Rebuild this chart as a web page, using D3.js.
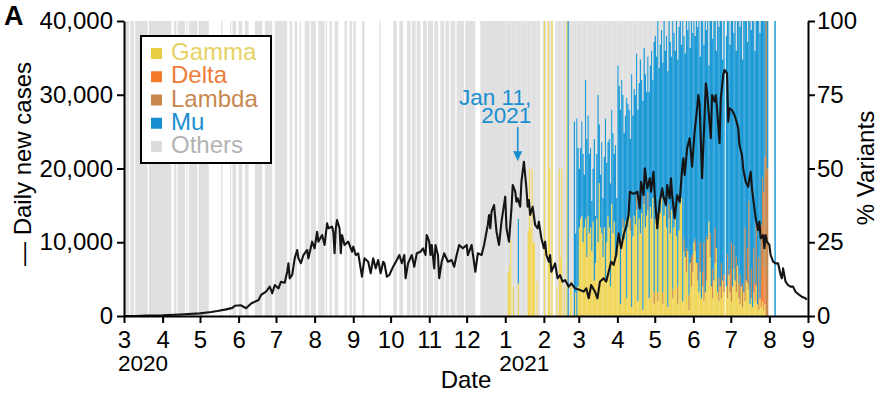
<!DOCTYPE html>
<html><head><meta charset="utf-8">
<script src="https://cdn.jsdelivr.net/npm/d3@7"></script>
<style>
body{margin:0;background:#fff}
svg{display:block;font-family:"Liberation Sans",Arial,Helvetica,sans-serif}
</style>
</head><body>
<svg id="chart" width="886" height="398"></svg>
<script>
// ---------------- DATA ----------------
// Daily new cases (black line), grouped by month
const caseMonths = ["2020-03","2020-04","2020-05","2020-06","2020-07","2020-08","2020-09","2020-10","2020-11","2020-12",
                    "2021-01","2021-02","2021-03","2021-04","2021-05","2021-06","2021-07","2021-08"];
const caseDays = [
 [1,10,20],
 [1,15],
 [1,10,15,22,27,29],
 [3,7,11,17,19,23,26,28,30],
 [3,5,8,10,11,12,14,16,18,19,21,23,26,27,30],
 [1,3,4,7,9,11,12,15,16,17,18,19,21,22,23,25,28,31],
 [1,3,5,8,10,13,15,17,19,21,23,25,26,28,30],
 [3,6,8,10,12,13,15,18,20,22,25,27,29,30],
 [1,2,3,5,6,8,9,11,13,16,19,21,23,25,28],
 [1,2,5,8,10,13,15,18,19,20,21,23,25,27,29],
 [1,2,4,6,7,9,10,11,13,14,16,18,19,20,21,23,25,27,28,30],
 [1,2,3,5,6,7,10,12,14,16,18,21,23,26],
 [2,5,7,9,11,14,16,18,21,23,25,27,29,31],
 [2,4,6,8,10,11,13,15,17,19,20,22,23,25,27,28,30],
 [1,3,5,7,8,10,11,13,14,15,17,19,21,23,24,25,27,29,31],
 [1,2,4,5,6,8,10,11,12,13,15,16,18,19,20,22,23,25,26,28,29,30],
 [2,4,6,7,8,10,11,13,15,16,17,18,20,21,23,24,25,27,28,29,30],
 [1,2,4,6,8,10,11,12,14,16,18,20,22,25,27,30,31]
];
const caseValues = [
 [0,10,60],
 [100,200],
 [360,550,680,900,1100,1400],
 [1450,1050,1700,2170,2850,3300,3980,3080,4200],
 [3750,4650,4500,6000,7150,5100,5560,7820,8950,7820,7150,8270,8950,7820,10080],
 [9180,11430,10080,10980,9630,12570,11890,12110,11430,8500,11890,13020,11890,8500,10980,9630,10080,8720],
 [9400,8270,8500,5330,7820,7360,5790,7820,6460,7590,5790,7360,7150,5330,5560],
 [6690,7590,8270,7150,8270,5110,7150,8270,6690,8500,8720,9180,8270,10980],
 [10080,8270,9630,6460,9630,8270,5110,7360,8500,7360,7590,6690,8270,9630,9180],
 [9630,8270,9630,6000,8500,8270,9630,12340,13700,11890,14140,15050,11430,9630,12790],
 [16180,11890,10080,14600,17770,16850,15500,15950,14820,18210,20920,17310,14820,15730,13700,14820,12340,11890,12790,10540],
 [9180,10080,8270,7360,8270,6000,7140,5110,5560,4650,4880,3980,4430,3750],
 [3530,3300,3750,2400,4200,3300,2400,4650,5110,4650,6000,7360,6920,8270],
 [11210,9180,10980,12110,13700,16850,16620,16620,16850,14600,18210,16410,20020,17310,18670,16850,19560],
 [16400,11890,15500,17310,16180,15050,17770,15960,18670,16400,13250,16400,15500,20020,21380,19120,22740,24100,20250],
 [22740,24990,28160,29970,28610,18670,27260,31550,30420,28160,24100,29970,29060,29970,28160,23420,29520,32680,33360,32910,26350,28160],
 [27930,27260,26130,25450,23190,21830,20020,18210,17530,18670,19560,17310,14600,13250,11660,12800,10540,10980,9180,10980,10080],
 [9630,8270,7360,7140,7140,5560,5110,6460,4650,4200,3980,3980,3300,2850,2620,2400,2200]
];

// 2020: days with sequenced samples (all "Others"), as date ranges
const othersOnly2020 = [
 ["2020-03-02","2020-03-04"],["2020-03-06","2020-03-08"],["2020-03-10","2020-03-19"],["2020-03-21","2020-04-07"],
 ["2020-04-10","2020-04-11"],["2020-04-13","2020-04-18"],["2020-04-20","2020-04-20"],["2020-04-22","2020-04-28"],
 ["2020-04-30","2020-05-07"],["2020-05-18","2020-05-18"],["2020-05-25","2020-05-25"],["2020-05-27","2020-05-29"],
 ["2020-06-01","2020-06-03"],["2020-06-06","2020-06-08"],["2020-06-14","2020-06-19"],["2020-06-22","2020-06-27"],
 ["2020-06-30","2020-07-09"],["2020-07-12","2020-07-13"],["2020-07-16","2020-07-17"],["2020-07-20","2020-07-20"],
 ["2020-07-24","2020-07-27"],["2020-07-29","2020-08-01"],["2020-08-04","2020-08-08"],["2020-08-10","2020-08-10"],
 ["2020-08-13","2020-08-14"],["2020-08-17","2020-08-19"],["2020-08-25","2020-08-26"],["2020-08-29","2020-08-30"],
 ["2020-09-01","2020-09-02"],["2020-09-08","2020-09-09"],["2020-09-22","2020-09-22"],["2020-10-03","2020-10-05"],
 ["2020-10-08","2020-10-10"],["2020-10-14","2020-10-16"],["2020-10-18","2020-10-20"],["2020-10-22","2020-10-24"],
 ["2020-10-27","2020-10-29"],["2020-10-31","2020-11-03"],["2020-11-05","2020-11-07"],["2020-11-10","2020-11-12"],
 ["2020-11-14","2020-11-16"],["2020-11-18","2020-11-21"],["2020-11-23","2020-11-28"],["2020-11-30","2020-12-07"],
 ["2020-12-12","2020-12-31"]
];

// 2021: daily % of variants (null = no sequenced sample that day); Others = remainder
const variantMonths = ["2021-01","2021-02","2021-03","2021-04","2021-05","2021-06","2021-07","2021-08"];
const gammaPct = [
 [0,0,15,17,26,0,10,0,0,0,11,0,0,0,0,0,0,0,29,50,30,50,25,25,0,12,0,0,null,null,0],
 [100,0,null,100,50,0,100,null,null,0,10,0,50,20,50,0,10,0,100,0,0,10,12,0,0,8,0,10],
 [30,33,34,25,30,33,20,34,28,30,22,32,12,18,33,25,45,30,28,20,30,12,25,34,30,10,38,28,32,20,20],
 [28,25,4,27,30,26,32,6,30,35,29,3,27,34,31,36,5,33,28,35,2,38,30,34,36,6,37,33,40,4],
 [33,36,5,38,35,40,4,34,37,30,3,33,28,36,6,30,34,27,4,29,38,40,5,22,20,15,22,2,18,10,15],
 [25,22,18,12,8,15,6,10,5,8,12,26,32,20,10,6,12,18,23,8,5,10,6,12,8,null,10,6,14,8],
 [5,10,16,12,8,17,6,4,10,3,8,5,12,11,9,4,6,3,8,5,10,4,2,6,3,5,2,4,0,0,null],
 [null,null,null,null,0]
];
const muPct = [
 [0,0,0,0,0,0,0,0,0,0,22,0,0,0,0,0,0,0,0,0,0,0,0,0,0,0,0,0,null,null,0],
 [0,0,null,0,0,0,0,null,null,0,0,0,0,0,0,0,0,0,0,100,0,0,0,0,66,20,67,47],
 [20,24,32,30,18,47,40,34,27,27,17,18,48,16,22,50,20,18,31,20,24,55,27,25,30,35,32,34,23,38,20],
 [57,53,66,53,42,36,36,68,42,35,27,79,41,43,44,48,65,46,59,45,71,50,52,42,46,70,48,57,40,85],
 [62,52,92,46,57,57,78,66,53,65,80,62,65,52,91,66,56,73,77,69,62,52,95,69,69,77,75,93,73,80,75],
 [75,69,82,80,92,63,94,85,67,92,70,74,53,72,90,78,88,70,67,92,85,90,82,75,86,null,85,79,86,76],
 [75,90,72,88,70,83,89,84,90,76,92,70,88,70,61,96,81,97,77,79,68,96,80,90,69,53,58,46,0,50,null],
 [null,null,null,null,100]
];
const lambdaMonths = ["2021-04","2021-05","2021-06","2021-07"];
const lambdaPct = [
 [0,0,0,0,3,0,0,0,0,0,4,0,0,0,0,5,0,0,0,0,0,3,0,0,6,0,0,0,0,4],
 [0,0,3,0,0,0,4,0,0,0,0,5,0,0,3,0,0,0,6,0,0,0,0,4,0,8,0,5,0,10,6],
 [0,4,0,6,0,10,0,5,20,0,15,0,0,8,0,10,0,12,0,0,8,0,12,0,6,null,0,15,0,8],
 [20,0,8,0,12,0,5,10,0,8,0,25,0,12,30,0,10,0,15,0,22,0,18,0,20,30,25,40,100,50,null]
];
const deltaMonths = ["2021-07"];
const deltaPct = [
 [0,0,0,0,0,0,0,0,0,0,0,0,0,0,0,0,0,0,0,6,0,0,0,0,8,12,15,10,0,0,null]
];

const leftTicks = [0,10000,20000,30000,40000];
const rightTicks = [0,25,50,75,100];
const xDomain = ["2020-03-01","2021-09-01"];
const yearLabels = [["2020-03-01","2020"],["2021-01-01","2021"]];
const legendNames = ["Gamma","Delta","Lambda","Mu","Others"];
const barColors  = {Gamma:"#f0d65a", Delta:"#f28440", Lambda:"#c98a52", Mu:"#1d9ad6", Others:"#e0e0e0"};
const swatchColors = {Gamma:"#e9cd43", Delta:"#f47a2c", Lambda:"#c8864b", Mu:"#168fd1", Others:"#dcdcdc"};
const legendText = {Gamma:"#e6d264", Delta:"#ee7c3a", Lambda:"#c8874e", Mu:"#1a8fd0", Others:"#b3b3b3"};
const annotation = {date:"2021-01-11", lines:["Jan 11,","2021"], value:21000};

// ---------------- DRAW ----------------
const parse = d3.utcParse("%Y-%m-%d");
const svg = d3.select("#chart");
const M = {left:124, right:808, top:21, bottom:316};

const x = d3.scaleUtc().domain(xDomain.map(parse)).range([M.left, M.right]);
const y = d3.scaleLinear().domain([0,40000]).range([M.bottom, M.top]);
const y2 = d3.scaleLinear().domain([0,100]).range([M.bottom, M.top]);

function monthMap(months, arr){
  const m = new Map();
  months.forEach((mo, i) => arr[i].forEach((v, j) => {
    m.set(+parse(mo + "-" + String(j+1).padStart(2,"0")), v);
  }));
  return m;
}
const gMap = monthMap(variantMonths, gammaPct);
const mMap = monthMap(variantMonths, muPct);
const lMap = monthMap(lambdaMonths, lambdaPct);
const dMap = monthMap(deltaMonths, deltaPct);

const bars = svg.append("g");
othersOnly2020.forEach(([a,b]) => {
  const s = parse(a), e = d3.utcDay.offset(parse(b), 1);
  bars.append("rect").attr("x", x(s)).attr("width", x(e)-x(s))
    .attr("y", y2(100)).attr("height", y2(0)-y2(100)).attr("fill", barColors.Others);
});
for (const [t, g] of gMap) {
  if (g === null) continue;
  const dt = new Date(t), nx = d3.utcDay.offset(dt, 1);
  const dl = dMap.get(t) || 0, lm = lMap.get(t) || 0, mu = mMap.get(t) || 0;
  const parts = [["Gamma",g],["Delta",dl],["Lambda",lm],["Mu",mu]];
  parts.push(["Others", Math.max(0, 100 - (g + dl + lm + mu))]);
  let c = 0;
  const x0 = x(dt), w = x(nx) - x0 + 0.2;
  parts.forEach(([k,v]) => {
    if (v <= 0) return;
    bars.append("rect").attr("x", x0).attr("width", w)
      .attr("y", y2(c+v)).attr("height", y2(c)-y2(c+v)).attr("fill", barColors[k]);
    c += v;
  });
}

// line
const pts = [];
caseMonths.forEach((mo, i) => {
  const n = Math.min(caseDays[i].length, caseValues[i].length);
  for (let j=0;j<n;j++) pts.push({date: parse(mo+"-"+String(caseDays[i][j]).padStart(2,"0")), v: caseValues[i][j]});
});
svg.append("path").datum(pts)
  .attr("d", d3.line().x(d=>x(d.date)).y(d=>y(d.v)))
  .attr("fill","none").attr("stroke","#151515").attr("stroke-width",2.1)
  .attr("stroke-linejoin","round");

// axes
const fontSize = 24;
function styleAxis(g){
  g.selectAll("path.domain").attr("stroke","#000").attr("stroke-width",2);
  g.selectAll(".tick line").attr("stroke","#000").attr("stroke-width",2);
  g.selectAll(".tick text").attr("font-size",fontSize).attr("fill","#000")
    .attr("font-family",'"Liberation Sans",Arial,Helvetica,sans-serif');
}
const monthTicks = d3.utcMonth.range(parse("2020-03-01"), d3.utcDay.offset(parse("2021-09-01"),1));
const xa = svg.append("g").attr("transform",`translate(0,${M.bottom})`)
  .call(d3.axisBottom(x).tickValues(monthTicks).tickFormat(d3.utcFormat("%-m")).tickSize(7).tickPadding(8).tickSizeOuter(0));
styleAxis(xa);
const ya = svg.append("g").attr("transform",`translate(${M.left},0)`)
  .call(d3.axisLeft(y).tickValues(leftTicks).tickFormat(d3.format(",")).tickSize(7).tickPadding(4).tickSizeOuter(0));
styleAxis(ya);
const y2a = svg.append("g").attr("transform",`translate(${M.right},0)`)
  .call(d3.axisRight(y2).tickValues(rightTicks).tickSize(7).tickPadding(2).tickSizeOuter(0));
styleAxis(y2a);

// year labels under January / first month
yearLabels.forEach(([d,t]) => {
  svg.append("text").attr("x", x(parse(d)) - 6).attr("y", 371)
    .attr("font-size", 22.5).attr("text-anchor","start").text(t);
});
svg.append("text").attr("x",(M.left+M.right)/2).attr("y",388).attr("font-size",fontSize)
  .attr("text-anchor","middle").text("Date");
svg.append("text").attr("transform",`translate(31,164) rotate(-90)`).attr("font-size",fontSize)
  .attr("text-anchor","middle").text("— Daily new cases");
svg.append("text").attr("transform",`translate(874,168) rotate(-90)`).attr("font-size",fontSize)
  .attr("text-anchor","middle").text("% Variants");
svg.append("text").attr("x",4).attr("y",25).attr("font-size",27).attr("font-weight","bold").text("A");

// annotation (one text element, two lines)
const ax = x(parse(annotation.date)), tipY = y(annotation.value);
const annColor = "#1a8fd0";
const at = svg.append("text").attr("font-size",22.5).attr("text-anchor","end").attr("fill",annColor);
annotation.lines.forEach((t,i) => {
  at.append("tspan").attr("x", ax+13.5).attr("y", 105 + i*17.5).text(t);
});
svg.append("line").attr("x1",ax).attr("x2",ax).attr("y1",tipY-34).attr("y2",tipY-8)
  .attr("stroke",annColor).attr("stroke-width",1.6);
svg.append("path").attr("d",`M${ax-4.5},${tipY-10}L${ax+4.5},${tipY-10}L${ax},${tipY}Z`).attr("fill",annColor);

// legend
const lg = svg.append("g");
lg.append("rect").attr("x",141).attr("y",36).attr("width",130).attr("height",127)
  .attr("fill","#fff").attr("stroke","#000").attr("stroke-width",2);
legendNames.forEach((n,i) => {
  const by = 60 + i*23.25;
  lg.append("rect").attr("x",151).attr("y",by-12).attr("width",11).attr("height",11).attr("fill",swatchColors[n]);
  lg.append("text").attr("x",171).attr("y",by).attr("font-size",fontSize).attr("fill",legendText[n]).text(n);
});
</script>
</body></html>
